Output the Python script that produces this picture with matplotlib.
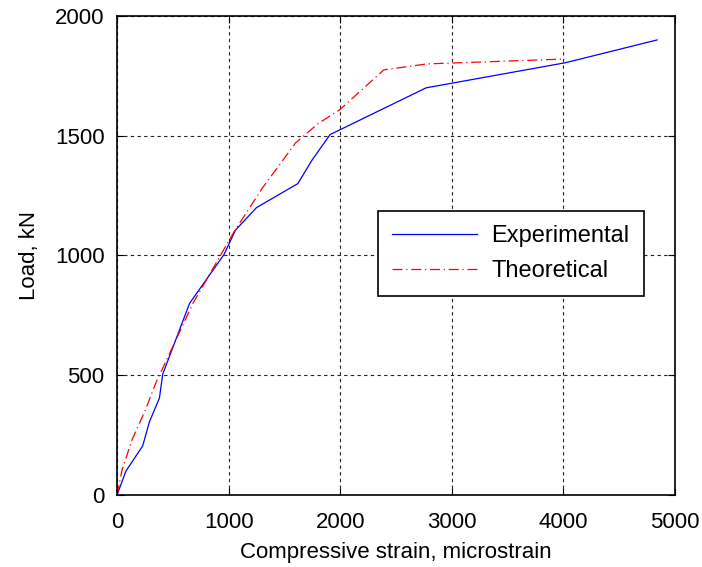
import numpy as np
import matplotlib
matplotlib.use("Agg")
import matplotlib.pyplot as plt

plt.rcParams['font.family'] = ['Liberation Sans', 'DejaVu Sans']

# Experimental curve (strain in microstrain, load in kN)
exp_strain = [0, 80, 230, 290, 380, 410, 650, 960, 1060, 1250, 1620, 1750, 1910, 2770, 4020, 4840]
exp_load = [0, 100, 205, 305, 405, 505, 800, 1005, 1105, 1200, 1300, 1400, 1505, 1700, 1805, 1900]

# Theoretical curve
theo_strain = [0, 45, 134, 254, 358, 410, 680, 1050, 1300, 1600, 1800, 2000, 2390, 2780, 4000]
theo_load = [0, 104, 230, 355, 480, 530, 800, 1100, 1280, 1470, 1550, 1610, 1775, 1800, 1820]

xticks = [0, 1000, 2000, 3000, 4000, 5000]
yticks = [0, 500, 1000, 1500, 2000]

fig = plt.figure(figsize=(7.02, 5.67), dpi=100)
ax = fig.add_axes([0.1667, 0.127, 0.7948, 0.8448])

ax.plot(exp_strain, exp_load, color='blue', linewidth=0.9, label='Experimental')
ax.plot(theo_strain, theo_load, color='red', linewidth=0.9, linestyle=(0, (8, 3, 1, 3)), label='Theoretical')

ax.set_xlim(0, 5000)
ax.set_ylim(0, 2000)
ax.set_xticks(xticks)
ax.set_yticks(yticks)
ax.grid(True, color='#222222', linestyle=(0, (3, 3)), linewidth=0.8)
ax.tick_params(direction='in', top=True, right=True, labelsize=16, length=5, pad=9)
ax.tick_params(axis='x', pad=12)
for s in ax.spines.values():
    s.set_linewidth(1.2)

ax.set_xlabel('Compressive strain, microstrain', fontsize=16, labelpad=7)
ax.set_ylabel('Load, kN', fontsize=16, labelpad=11)

leg = ax.legend(loc='upper left', bbox_to_anchor=(0.468, 0.593), borderaxespad=0,
                fontsize=17, fancybox=False, framealpha=1, edgecolor='black',
                handlelength=3.6, borderpad=0.6, labelspacing=0.55, handletextpad=0.6)
leg.get_frame().set_linewidth(1.2)

fig.savefig('out.png', dpi=100)
